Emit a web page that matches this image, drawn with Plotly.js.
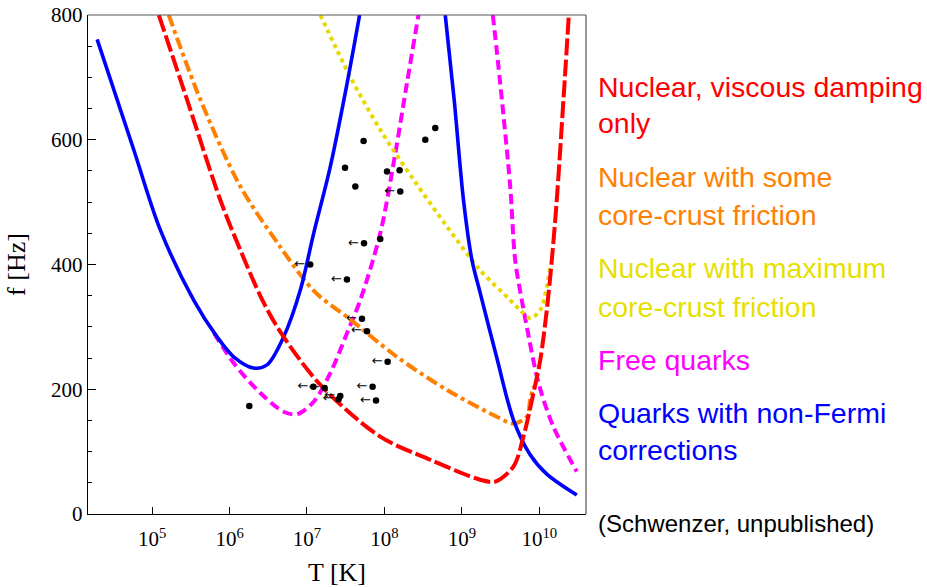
<!DOCTYPE html>
<html><head><meta charset="utf-8">
<script src="https://cdn.plot.ly/plotly-3.0.1.min.js"></script>
<style>html,body{margin:0;padding:0;background:#fff}#c{width:927px;height:587px}</style>
</head><body><div id="c"></div>
<script>
// ---- data (T in K, f in Hz) ----
const redT = [1.22e5, 2.83e5, 7.62e5, 1.38e6, 2.65e6, 4.53e6, 1.49e7, 8.83e7, 3.90e8, 1.72e9, 2.70e9, 4.63e9, 6.24e9, 8.41e9, 1.03e10, 1.25e10, 1.45e10, 1.68e10, 2.05e10, 2.42e10];
const redF = [800, 664, 503, 423, 343, 292, 207, 124, 87, 55, 52, 76, 124, 194, 247, 327, 407, 503, 664, 805];

const orangeT = [1.64e5, 4.21e5, 1.38e6, 4.53e6, 1.00e7, 1.49e7, 3.29e7, 1.45e8, 6.41e8, 2.83e9, 4.63e9, 6.90e9, 7.62e9, 8.50e9];
const orangeF = [800, 664, 525, 428, 370, 348, 316, 252, 199, 156, 145, 156, 183, 205];

const yellowT = [1.49e7, 3.62e7, 8.83e7, 2.38e8, 6.41e8, 1.72e9, 4.21e9, 5.66e9, 7.62e9, 1.03e10, 1.25e10, 1.40e10];
const yellowF = [800, 701, 616, 536, 461, 391, 343, 327, 314, 327, 364, 400];

const magLeftT = [6.31e5, 1.13e6, 2.50e6, 5.00e6, 7.43e6, 1.22e7, 2.00e7, 3.29e7, 4.88e7, 8.83e7, 1.38e8, 1.95e8, 2.75e8];
const magLeftF = [290, 242, 194, 164, 160, 180, 226, 290, 343, 450, 578, 690, 800];
const magRightT = [2.51e9, 3.13e9, 4.21e9, 4.88e9, 5.94e9, 6.90e9, 9.77e9, 1.52e10, 3.05e10];
const magRightF = [800, 690, 525, 407, 343, 300, 210, 140, 68];

const blueLeftT = [1.95e4, 5.79e4, 1.28e5, 3.44e5, 6.90e5, 1.13e6, 2.04e6, 3.05e6, 5.00e6, 8.20e6, 1.22e7, 2.00e7, 3.29e7, 4.78e7];
const blueLeftF = [761, 584, 455, 343, 284, 252, 234, 239, 284, 359, 450, 557, 690, 800];
const blueRightT = [6.10e8, 7.96e8, 1.05e9, 1.35e9, 1.72e9, 2.83e9, 4.63e9, 7.62e9, 1.25e10, 3.05e10];
const blueRightF = [800, 664, 503, 407, 355, 250, 151, 95, 64, 30.5];

const dotT = [5.38e7, 4.53e8, 3.37e8, 3.10e7, 4.21e7, 1.08e8, 1.57e8, 8.83e7, 1.80e6];
const dotF = [598, 619, 600, 555, 525, 549, 551, 441, 173];
const limT = [1.60e8, 5.45e7, 1.10e7, 3.28e7, 5.13e7, 5.96e7, 1.10e8, 1.21e7, 1.69e7, 2.69e7, 2.56e7, 7.03e7, 7.78e7];
const limF = [517, 434, 400, 376, 313, 293, 244, 204, 202, 189, 184, 204, 182];

const xTickVals = [1e5, 1e6, 1e7, 1e8, 1e9, 1e10];
const xTickText = ['10<sup>5</sup>', '10<sup>6</sup>', '10<sup>7</sup>', '10<sup>8</sup>', '10<sup>9</sup>', '10<sup>10</sup>'];
const yTickVals = [0, 200, 400, 600, 800];

const legendLines = [
  ['Nuclear, viscous damping', '#ff0000'],
  ['only', '#ff0000'],
  ['Nuclear with some', '#ff8000'],
  ['core-crust friction', '#ff8000'],
  ['Nuclear with maximum', '#e6e000'],
  ['core-crust friction', '#e6e000'],
  ['Free quarks', '#ff00ff'],
  ['Quarks with non-Fermi', '#0000ff'],
  ['corrections', '#0000ff']
];
const noteText = '(Schwenzer, unpublished)';

// ---- layout helpers ----
const M = {l: 88, r: 341, t: 15, b: 73};
const H = 587 - M.t - M.b, W = 927 - M.l - M.r;
const py = p => (587 - M.b - p) / H;
const px = p => (p - M.l) / W;
const legendBaselines = [97, 133, 187, 225, 278, 317, 370, 423, 460];

function line(x, y, color, width, dash) {
  return {x, y, type: 'scatter', mode: 'lines', hoverinfo: 'skip',
    line: {color, width, dash, shape: 'spline', smoothing: 0.9}};
}
const traces = [
  line(magLeftT, magLeftF, '#ff00ff', 4, '10px,5px'),
  line(magRightT, magRightF, '#ff00ff', 4, '10px,5px'),
  line(yellowT, yellowF, '#e8d800', 4, '4px,4px'),
  line(orangeT, orangeF, '#ff8000', 4, '12px,4px,4px,4px'),
  line(blueLeftT, blueLeftF, '#0000ff', 3.6, 'solid'),
  line(blueRightT, blueRightF, '#0000ff', 3.6, 'solid'),
  line(redT, redF, '#ff0000', 4, '17px,4px'),
  {x: dotT, y: dotF, type: 'scatter', mode: 'markers', marker: {color: '#000', size: 6.5}},
  {x: limT, y: limF, type: 'scatter', mode: 'markers+text', marker: {color: '#000', size: 6.5},
    text: limT.map(() => '←'), textposition: 'middle left', cliponaxis: false,
    textfont: {family: 'DejaVu Sans, sans-serif', size: 13, color: '#000'}}
];

const annotations = [];
legendLines.forEach((l, i) => {
  annotations.push({xref: 'paper', yref: 'paper', x: px(596), y: py(legendBaselines[i] - 10),
    xanchor: 'left', yanchor: 'middle', showarrow: false, text: l[0],
    font: {family: 'Liberation Sans, Arial, sans-serif', size: 28.5, color: l[1]}});
});
annotations.push({xref: 'paper', yref: 'paper', x: px(596), y: py(532 - 9),
  xanchor: 'left', yanchor: 'middle', showarrow: false, text: noteText,
  font: {family: 'Liberation Sans, Arial, sans-serif', size: 24, color: '#000'}});

const serif = 'Liberation Serif, Times New Roman, serif';
const layout = {
  width: 927, height: 587, margin: M, showlegend: false,
  paper_bgcolor: '#fff', plot_bgcolor: '#fff',
  xaxis: {type: 'log', range: [4.172, 10.603], showgrid: false, zeroline: false,
    showline: true, linecolor: '#000', linewidth: 1.2,
    ticks: 'inside', ticklen: 7, tickwidth: 1, tickcolor: '#000',
    tickvals: xTickVals, ticktext: xTickText, ticklabelstandoff: 6,
    tickfont: {family: serif, size: 21, color: '#000'},
    title: {text: 'T [K]', font: {family: serif, size: 26, color: '#000'}, standoff: 12}},
  yaxis: {range: [0, 800], showgrid: false, zeroline: false,
    showline: true, linecolor: '#000', linewidth: 1.2,
    ticks: 'inside', ticklen: 8, tickwidth: 1, tickcolor: '#000',
    tickvals: yTickVals, ticklabelstandoff: 0,
    minor: {dtick: 50, ticks: 'inside', ticklen: 4, tickcolor: '#000', showgrid: false},
    tickfont: {family: serif, size: 21, color: '#000'},
    title: {text: 'f [Hz]', font: {family: serif, size: 26, color: '#000'}, standoff: 18}},
  shapes: [
    {type: 'line', xref: 'paper', yref: 'paper', x0: 0, x1: 1, y0: 1, y1: 1, line: {color: '#555', width: 1.2}},
    {type: 'line', xref: 'paper', yref: 'paper', x0: 1, x1: 1, y0: 0, y1: 1, line: {color: '#555', width: 1.2}}
  ],
  annotations
};
Plotly.newPlot('c', traces, layout, {staticPlot: true});
</script>
</body></html>
